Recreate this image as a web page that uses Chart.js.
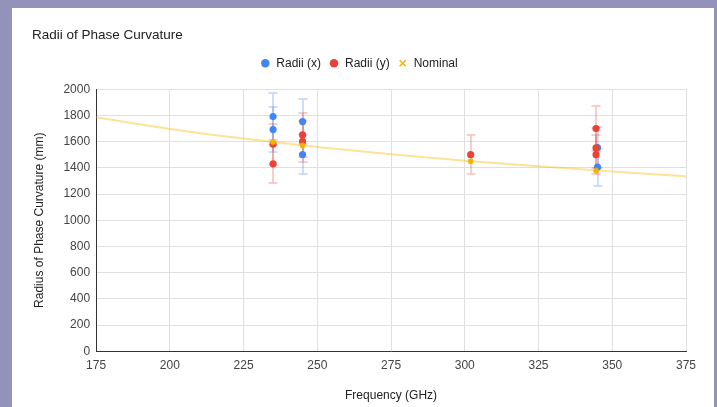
<!DOCTYPE html>
<html><head><meta charset="utf-8">
<script src="https://cdn.jsdelivr.net/npm/chart.js@4"></script>
<style>
html,body{margin:0;padding:0;background:#9392ba;overflow:hidden;}
#card{position:absolute;left:12px;top:8px;width:702px;height:399px;background:#fff;}
canvas{display:block}
</style></head><body>
<div id="card"><canvas id="c" width="702" height="399"></canvas></div>
<script>
// ---- data ----
const blueFreq   = [235, 235, 245, 245, 345, 345];
const blueRadius = [1791, 1692, 1753, 1501, 1555, 1405];
const blueErr    = [179, 169, 175, 150, 156, 141];

const redFreq    = [235, 235, 245, 245, 302, 344.5, 344.5, 344.5];
const redRadius  = [1580, 1430, 1651, 1601, 1500, 1700, 1552, 1500];
const redErr     = [158, 143, 165, 160, 150, 170, 155, 150];

const nomFreq    = [235, 245, 302, 344.5];
const nomRadius  = [1597, 1571, 1450, 1378];

const trendFreq  = [175, 200, 225, 250, 275, 300, 325, 350, 375];
const trendRadius= [1786, 1697, 1623, 1559, 1503, 1454, 1411, 1372, 1336];

const xTicks = [175, 200, 225, 250, 275, 300, 325, 350, 375];
const yTicks = [0, 200, 400, 600, 800, 1000, 1200, 1400, 1600, 1800, 2000];

const toPts = (xs, ys) => xs.map((x, i) => ({x, y: ys[i]}));

const errorBars = {
  id: 'errorBars',
  beforeDatasetsDraw(chart) {
    const ctx = chart.ctx, xs = chart.scales.x, ys = chart.scales.y;
    const sets = [
      [blueFreq, blueRadius, blueErr, 'rgba(66,133,244,0.35)'],
      [redFreq, redRadius, redErr, 'rgba(234,67,53,0.35)']
    ];
    ctx.save();
    ctx.lineWidth = 1.5;
    sets.forEach(([f, v, e, col]) => {
      ctx.strokeStyle = col;
      for (let i = 0; i < f.length; i++) {
        const x = Math.round(xs.getPixelForValue(f[i]));
        const y1 = Math.round(ys.getPixelForValue(v[i] + e[i]));
        const y2 = Math.round(ys.getPixelForValue(v[i] - e[i]));
        ctx.beginPath();
        ctx.moveTo(x, y1); ctx.lineTo(x, y2);
        ctx.moveTo(x - 4.5, y1); ctx.lineTo(x + 4.5, y1);
        ctx.moveTo(x - 4.5, y2); ctx.lineTo(x + 4.5, y2);
        ctx.stroke();
      }
    });
    ctx.restore();
  }
};

const legendMargin = {
  id: 'legendMargin',
  beforeInit(chart) {
    const origFit = chart.legend.fit;
    chart.legend.fit = function () { origFit.call(this); this.height += 10; };
  }
};

const FONT = '"Liberation Sans", Arial, sans-serif';

new Chart(document.getElementById('c'), {
  type: 'scatter',
  data: {
    datasets: [
      { label: 'Radii (x)', data: toPts(blueFreq, blueRadius), backgroundColor: '#4285f4',
        borderWidth: 0, pointRadius: 3.6, order: 3 },
      { label: 'Radii (y)', data: toPts(redFreq, redRadius), backgroundColor: '#ea4335',
        borderWidth: 0, pointRadius: 3.6, order: 2 },
      { label: 'Nominal', data: toPts(nomFreq, nomRadius), pointStyle: 'star',
        borderColor: '#f4b400', backgroundColor: '#f4b400', borderWidth: 1.6, pointRadius: 3, order: 1 },
      { label: 'trend', type: 'line', data: toPts(trendFreq, trendRadius), borderColor: 'rgba(251,188,4,0.42)',
        borderWidth: 2, pointRadius: 0, cubicInterpolationMode: 'monotone', fill: false, order: 5 }
    ]
  },
  options: {
    responsive: false,
    animation: false,
    devicePixelRatio: 1,
    layout: { padding: { left: 20, right: 28, top: 0, bottom: 0 } },
    plugins: {
      tooltip: { enabled: false },
      title: { display: true, text: 'Radii of Phase Curvature', align: 'start',
        font: { family: FONT, size: 13.5, weight: 'normal' }, color: '#222', padding: { top: 19, bottom: 6 } },
      legend: {
        position: 'top',
        labels: {
          usePointStyle: true, boxWidth: 10, boxHeight: 6, padding: 8,
          font: { family: FONT, size: 12 }, color: '#222',
          filter: (item) => item.text !== 'trend',
          sort: (a, b) => a.datasetIndex - b.datasetIndex,
          generateLabels: (chart) => {
            const items = Chart.defaults.plugins.legend.labels.generateLabels(chart);
            items.forEach(it => { if (it.text === 'Nominal') { it.pointStyle = 'crossRot'; it.lineWidth = 1.5; } });
            return items;
          }
        }
      }
    },
    scales: {
      x: {
        type: 'linear', min: 175, max: 375,
        afterBuildTicks: (s) => { s.ticks = xTicks.map(v => ({ value: v })); },
        ticks: { font: { family: FONT, size: 12 }, color: '#444', padding: 7, callback: v => String(v) },
        grid: { color: '#e0e0e0', drawTicks: false },
        border: { color: '#333' },
        title: { display: true, text: 'Frequency (GHz)', font: { family: FONT, size: 12 }, color: '#222',
          padding: { top: 9, bottom: 4 } }
      },
      y: {
        min: 0, max: 2000,
        afterBuildTicks: (s) => { s.ticks = yTicks.map(v => ({ value: v })); },
        ticks: { font: { family: FONT, size: 12 }, color: '#444', padding: 6, callback: v => String(v) },
        grid: { color: '#e0e0e0', drawTicks: false },
        border: { color: '#333' },
        title: { display: true, text: 'Radius of Phase Curvature (mm)', font: { family: FONT, size: 12 }, color: '#222',
          padding: { top: 0, bottom: 11 } }
      }
    }
  },
  plugins: [errorBars, legendMargin]
});
</script>
</body></html>
